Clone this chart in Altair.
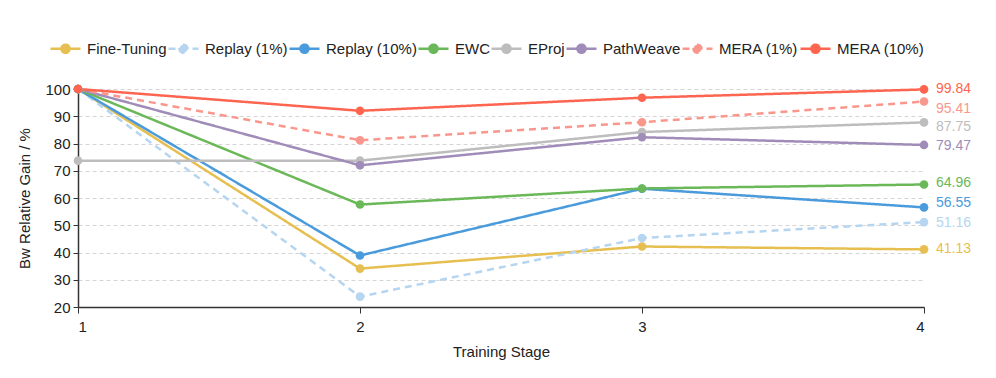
import altair as alt
import pandas as pd

stages = [1, 2, 3, 4]
methods = ["Fine-Tuning", "Replay (1%)", "Replay (10%)", "EWC", "EProj", "PathWeave", "MERA (1%)", "MERA (10%)"]
ft = [100, 34.1, 42.2, 41.13]
replay1 = [100, 23.8, 45.3, 51.16]
replay10 = [100, 38.9, 63.4, 56.55]
ewc = [100, 57.6, 63.5, 64.96]
eproj = [73.7, 73.7, 84.2, 87.75]
pathweave = [100, 72.0, 82.3, 79.47]
mera1 = [100, 81.2, 87.8, 95.41]
mera10 = [100, 92.0, 96.8, 99.84]
series = [ft, replay1, replay10, ewc, eproj, pathweave, mera1, mera10]
colors = ["#E6BF50", "#B5D5F0", "#4A9BDC", "#6AB858", "#BDBDBD", "#A08CB8", "#FA978C", "#FE6550"]
dashes = [[1, 0], [7, 5], [1, 0], [1, 0], [1, 0], [1, 0], [7, 5], [1, 0]]
y_ticks = [20, 30, 40, 50, 60, 70, 80, 90, 100]
# end-label pixel nudges (positive = downwards) to keep labels apart
label_nudge = [0, 1, -4, -1, 5, 1, 7, 0]

rows = []
for m, vals, nd in zip(methods, series, label_nudge):
    for s, v in zip(stages, vals):
        rows.append({"stage": s, "method": m, "value": v, "label": f"{v:.2f}", "nudge": nd})
df = pd.DataFrame(rows)

PLOT_H = 218
FONT = "Liberation Sans"
legend = alt.Legend(
    title=None, orient="none", direction="horizontal", legendX=-29, legendY=-57,
    columns=8, columnPadding=-4, labelFontSize=15, labelFont=FONT, labelColor="#222",
    symbolType="M-1,0L1,0M-0.27,0a0.27,0.27 0 1,0 0.54,0a0.27,0.27 0 1,0 -0.54,0",
    symbolSize=900, symbolStrokeWidth=2.5, labelOffset=5,
)
color = alt.Color("method:N", scale=alt.Scale(domain=methods, range=colors), sort=methods, legend=legend)
dash = alt.StrokeDash("method:N", scale=alt.Scale(domain=methods, range=dashes), sort=methods, legend=legend)

xscale = alt.Scale(domain=[1, 4], nice=False)
yscale = alt.Scale(domain=[20, 100], nice=False)
xaxis = alt.Axis(values=stages, format="d", grid=False, tickSize=6, labelPadding=6, titlePadding=10)
yaxis = alt.Axis(values=y_ticks, grid=True, gridDash=[4, 3], gridColor="#d5d5d5",
                 tickSize=5, labelPadding=3, titlePadding=12, labelOverlap=False)
XT = "Training Stage"
YT = "Bw Relative Gain / %"

lines = alt.Chart(df).mark_line(strokeWidth=2.5, point=alt.OverlayMarkDef(filled=True, size=75, opacity=1)).encode(
    x=alt.X("stage:Q", title=XT, scale=xscale, axis=xaxis),
    y=alt.Y("value:Q", title=YT, scale=yscale, axis=yaxis),
    color=color, strokeDash=dash, order=alt.Order("stage:Q")
)

labels = alt.Chart(df).transform_filter(alt.datum.stage == 4).transform_calculate(
    ylab=f"datum.value - datum.nudge * 80 / {PLOT_H}"
).mark_text(
    align="left", baseline="middle", dx=12, fontSize=14, font=FONT
).encode(x=alt.X("stage:Q", title=XT, scale=xscale, axis=xaxis),
         y=alt.Y("ylab:Q", title=YT, scale=yscale, axis=yaxis),
         text="label:N",
         color=alt.Color("method:N", scale=alt.Scale(domain=methods, range=colors), legend=None))

chart = alt.layer(lines, labels).properties(
    width=846, height=PLOT_H,
    autosize=alt.AutoSizeParams(type="none"),
    padding={"left": 70, "top": 81, "right": 64, "bottom": 63},
).configure_view(stroke=None).configure_axis(
    labelFont=FONT, titleFont=FONT, labelFontSize=15, titleFontSize=15,
    labelColor="#222", titleColor="#222", titleFontWeight="normal",
    domainColor="#333", tickColor="#333", domainWidth=1.5,
)

chart.save("out.html", embed_options={"renderer": "svg", "actions": False})
